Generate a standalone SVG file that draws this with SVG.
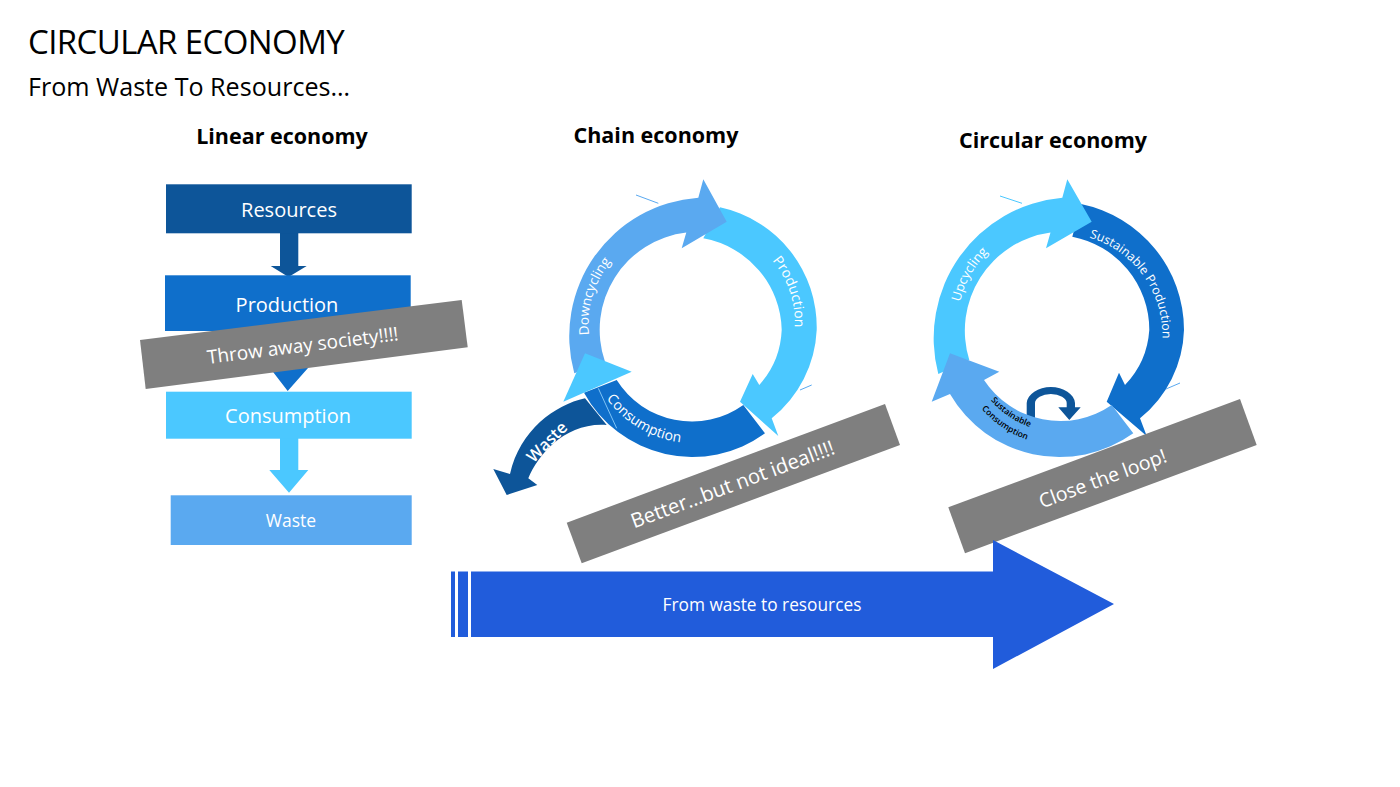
<svg xmlns="http://www.w3.org/2000/svg" width="1400" height="787" viewBox="0 0 1400 787">
<style>
text{font-family:"Open Sans","Noto Sans","Liberation Sans",sans-serif;fill:#fff}
.h{font-weight:700;fill:#000;font-size:21.5px;text-anchor:middle}
.m{text-anchor:middle}
.d{fill:#0d5599}.b{fill:#0f6fcb}.l{fill:#4bc8ff}.s{fill:#5aa9f0}.g{fill:#7f7f7f}
.t{stroke-width:1;fill:none}
</style>
<defs>
<path id="p1" d="M772.300 260.700A95 95 0 0 1 792 345"/>
<path id="p2" d="M589 335A100 100 0 0 1 622 250"/>
<path id="p3" d="M583 327A110 116 0 0 0 803 327"/>
<path id="p4" d="M1089.300 237.500A102 102 0 0 1 1162 345"/>
<path id="p5" d="M960 302A100 100 0 0 1 998 244"/>
<path id="p6" d="M963.700 327A95 105 0 0 0 1153.700 327"/>
<path id="p7" d="M951.700 327A107 118 0 0 0 1165.700 327"/>
</defs>
<g id="title">
<text x="28" y="54" font-size="33" letter-spacing="-0.6" style="fill:#000">CIRCULAR ECONOMY</text>
<text x="28" y="96" font-size="25.100" style="fill:#000">From Waste To Resources…</text>
</g>
<g id="headings">
<text class="h" x="282" y="143.500">Linear economy</text>
<text class="h" x="656" y="143">Chain economy</text>
<text class="h" x="1053" y="147.500">Circular economy</text>
</g>
<g id="connectors">
<path class="d" d="M280 233H298.3V266H306.7L288.5 277L270.7 266H280Z"/>
<path class="b" d="M278 331H297V368H308L287.7 391L270 368H278Z"/>
<path class="l" d="M280 438H298.3V470H308.3L289 492.7L269.3 470H280Z"/>
</g>
<g id="node-resources"><rect class="d" x="166" y="184.3" width="245.7" height="49"/><text class="m" x="289" y="217" font-size="20">Resources</text></g>
<g id="node-production"><rect class="b" x="165" y="275.3" width="245.7" height="55.7"/><text class="m" x="287" y="312" font-size="20">Production</text></g>
<g id="node-consumption"><rect class="l" x="166" y="391.7" width="245.7" height="47"/><text class="m" x="288" y="423" font-size="20">Consumption</text></g>
<g id="node-waste"><rect class="s" x="170.7" y="495.3" width="241" height="49.7"/><text class="m" x="291" y="527" font-size="17.500">Waste</text></g>
<g id="note-throw"><path class="g" d="M140 340L461.700 300L467.700 347.300L145.700 389Z"/><text class="m" transform="translate(303.500 352) rotate(-7.100)" font-size="19">Throw away society!!!!</text></g>

<g id="chain-waste"><path class="d" d="M585 398.300C555 405 520 430 510 474L493.300 469L506.700 495L537.300 485L528.300 478.300C538 455 565 422 606.700 425Z"/><text class="m" transform="translate(551 446) rotate(-45)" font-size="16.500" font-weight="600">Waste</text></g>
<g id="chain-production"><path class="l" d="M720 207.300A122.600 122.600 0 0 1 816.700 330A120 120 0 0 1 771.700 418.300L778.300 436L740 401.700L752.700 374L759.300 385A88 88 0 0 0 781.700 330A95.400 95.400 0 0 0 703.300 238.300Z"/><text font-size="14"><textPath href="#p1">Production</textPath></text></g>
<g id="chain-consumption"><path class="b" d="M584 392.700A123.400 123.400 0 0 0 765 433.300L743.300 405A88.700 88.700 0 0 1 616.700 380Z"/><text font-size="14" class="m"><textPath href="#p3" startOffset="34%">Consumption</textPath></text></g>
<g id="chain-downcycling"><path class="s" d="M574.300 373.300A138.800 138.800 0 0 1 698.300 197.700L703.300 179.300L726.700 221.700L681.700 248.300L686.300 232.500A98 98 0 0 0 605 361.700Z"/><text font-size="13.500"><textPath href="#p2">Downcycling</textPath></text></g>
<g id="chain-head"><path class="l" d="M585 353.300L631.700 371.700L563.300 401.700Z"/></g>
<g id="chain-lines"><path class="t" stroke="#7fc4f5" d="M598.300 388.300L616.700 428.300"/><path class="t" stroke="#5aa9f0" d="M636 195L658.300 203.300"/><path class="t" stroke="#5aa9f0" d="M800 390L811.700 385"/></g>
<g id="note-better"><path class="g" d="M885 404L900 445L581.700 563.300L566.700 522.700Z"/><text class="m" transform="translate(735 491) rotate(-20.400)" font-size="20.300">Better…but not ideal!!!!</text></g>

<g id="circ-production"><path class="b" d="M1081 204A128.800 128.800 0 0 1 1184 330A118 118 0 0 1 1140 418.300L1146.700 436L1106.700 401.700L1119 372.700L1125 385A88 88 0 0 0 1149.300 330A95 95 0 0 0 1072.300 236.700Z"/><text font-size="12.400"><textPath href="#p4">Sustainable Production</textPath></text></g>
<g id="circ-upcycling"><path class="l" d="M938.300 374A141 141 0 0 1 1062.300 197.700L1067.300 179.300L1091.700 221.700L1046 248.300L1050.500 232.500A99 99 0 0 0 969.300 360Z"/><text font-size="13"><textPath href="#p5">Upcycling</textPath></text></g>
<g id="circ-loop"><path class="d" d="M1026.700 420V403A24.200 17 0 0 1 1075 403V407.300H1080.700L1069.300 420L1058.300 407.300H1066.700V403A15.850 9 0 0 0 1035 403V420Z"/></g>
<g id="circ-consumption"><path class="s" d="M1133.300 433.300A126.600 126.600 0 0 1 950 394L931.700 401.700L950 353.300L999.300 371.700L984 380A91.100 91.100 0 0 0 1111.700 405Z"/>
<text font-size="8.500" font-weight="600" style="fill:#000" class="m"><textPath href="#p6" startOffset="33%">Sustainable</textPath></text><text font-size="8.500" font-weight="600" style="fill:#000" class="m"><textPath href="#p7" startOffset="33%">Consumption</textPath></text></g>
<g id="circ-lines"><path class="t" stroke="#4bc8ff" d="M1000 196L1022 203.300"/><path class="t" stroke="#5aa9f0" d="M1166 389L1180 383"/></g>
<g id="note-loop"><path class="g" d="M1240 399L1256.700 445L965 553.300L948.300 507.300Z"/><text class="m" transform="translate(1105 485) rotate(-20.400)" font-size="19.500">Close the loop!</text></g>

<g id="big-arrow"><path fill="#215cdb" d="M451 571.500H455V637H451ZM458 571.500H468V637H458ZM471 571.500H993V540L1114 604L993 669V637H471Z"/><text class="m" x="762" y="611" font-size="17.300">From waste to resources</text></g>
</svg>
